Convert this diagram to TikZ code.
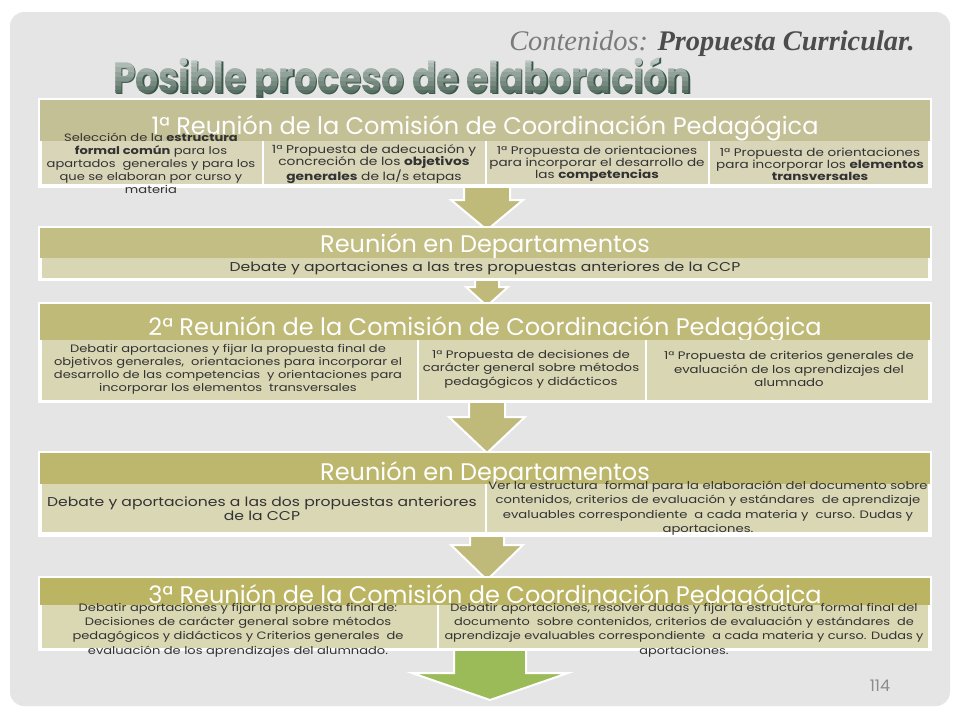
\documentclass[tikz,border=0pt]{standalone}
\usepackage{fontspec}
\setmainfont{Poppins}
\newfontfamily\boxfont[FakeStretch=1.22]{Poppins}
\newfontfamily\headlinefont[FakeStretch=0.82]{Poppins}
\newfontfamily\subjectfont{Liberation Serif}

\definecolor{slidegray}{HTML}{E5E5E5}
\definecolor{headA}{HTML}{C4C095}
\definecolor{subA}{HTML}{D8D5B8}
\definecolor{headB}{HTML}{C3BE84}
\definecolor{subB}{HTML}{D9D6B4}
\definecolor{headC}{HTML}{C0BA78}
\definecolor{subC}{HTML}{D9D6B3}
\definecolor{headD}{HTML}{BDB76D}
\definecolor{subD}{HTML}{DAD7B5}
\definecolor{headE}{HTML}{BBB463}
\definecolor{subE}{HTML}{DAD8B3}
\definecolor{arrowtan}{HTML}{C0BA7A}
\definecolor{arrowgreen}{HTML}{9BBB59}
\definecolor{titlelight}{HTML}{CBD4CF}
\definecolor{titledark}{HTML}{3B5749}

\tikzset{
  headtext/.style={anchor=base, text=white, font=\fontsize{24}{26}\selectfont},
  subtext/.style={align=center, text=black!80, inner sep=0pt, font=\boxfont\fontsize{10.7}{13}\selectfont},
  bigsubtext/.style={subtext, font=\boxfont\fontsize{12.8}{14}\selectfont},
  titletext/.style={anchor=base, inner sep=0pt, font=\headlinefont\fontsize{44}{44}\selectfont\bfseries},
}

% down arrow: centre, top, head start, tip, half shaft, half head, colour
\newcommand{\bandarrow}[7]{%
  \filldraw[fill=#7, draw=white, line width=2pt]
    (#1-#5,#2) -- (#1-#5,#3) -- (#1-#6,#3) -- (#1,#4) -- (#1+#6,#3) -- (#1+#5,#3) -- (#1+#5,#2);}

\begin{document}
\begin{tikzpicture}[x=1pt,y=-1pt]
	\useasboundingbox (0,0) rectangle (960,720);

	%The slide
	\fill[white] (0,0) rectangle (960,720);
	\fill[slidegray, rounded corners=14pt] (10,12) rectangle (950,706);

	%Titles
	\node[anchor=base east, inner sep=0pt, font=\fontsize{28.4}{28.4}\selectfont\subjectfont\itshape] (subject) at (915,50)
	  {\color{black!52}Contenidos: \color{black!70}\bfseries Propuesta Curricular.};
	\node[titletext, text=titledark] (titleshadow) at (403.5,94.5) {Posible proceso de elaboración};
	\foreach \i in {0,...,9} {
	  \pgfmathtruncatemacro{\mix}{100-\i*10}
	  \begin{scope}
	    \clip (0,54+\i*4.6) rectangle (960,58.6+\i*4.6);
	    \node[titletext, text=titlelight!\mix!titledark] (title\i) at (402,93) {Posible proceso de elaboración};
	  \end{scope}
	}

	%Arrows between the meetings
	\bandarrow{487}{182}{200}{230}{23}{36}{arrowtan}
	\bandarrow{487}{276}{287}{306}{12}{21}{arrowtan}
	\bandarrow{487}{398}{417}{453}{18}{38}{arrowtan}
	\bandarrow{487}{530}{545}{580}{17}{36}{arrowtan}
	\bandarrow{490}{646}{673}{700}{36}{78}{arrowgreen}

	%1st meeting
	\fill[white] (38,98) rectangle (932,188);
	\fill[headA] (40,100) rectangle (930,141);
	\node[headtext] (meet1) at (485,134) {1ª Reunión de la Comisión de Coordinación Pedagógica};
	\foreach \l/\r in {42/262, 264/485, 487/708, 710/928}
	  \fill[subA] (\l,141) rectangle (\r,184);
	\node[subtext] (m1a) at (151,163) {Selección de la \textbf{estructura}\\ \textbf{formal común} para los\\ apartados\ \ generales y para los\\ que se elaboran por curso y\\ materia};
	\node[subtext, font=\boxfont\fontsize{11.3}{12}\selectfont] (m1b) at (374,164) {1ª Propuesta de adecuación y\\ concreción de los \textbf{objetivos}\\ \textbf{generales} de la/s etapas};
	\node[subtext, font=\boxfont\fontsize{11.1}{12}\selectfont] (m1c) at (597,164) {1ª Propuesta de orientaciones\\ para incorporar el desarrollo de\\ las \textbf{competencias}};
	\node[subtext, font=\boxfont\fontsize{11.1}{12}\selectfont] (m1d) at (820,164) {1ª Propuesta de orientaciones\\ para incorporar los \textbf{elementos}\\ \textbf{transversales}};

	%Departments
	\fill[white] (38,226) rectangle (932,281);
	\fill[headB] (40,228) rectangle (930,258);
	\node[headtext] (dep1) at (485,252) {Reunión en Departamentos};
	\fill[subB] (42,258) rectangle (928,278);
	\node[bigsubtext] (d1a) at (485,268) {Debate y aportaciones a las tres propuestas anteriores de la CCP};

	%2nd meeting
	\fill[white] (38,302) rectangle (932,403);
	\fill[headC] (40,304) rectangle (930,340);
	\node[headtext] (meet2) at (485,335) {2ª Reunión de la Comisión de Coordinación Pedagógica};
	\foreach \l/\r in {42/417, 419/645, 647/928}
	  \fill[subC] (\l,340) rectangle (\r,400);
	\node[subtext] (m2a) at (228,369) {Debatir aportaciones y fijar la propuesta final de\\ objetivos generales,\ \ orientaciones para incorporar el\\ desarrollo de las competencias\ \ y orientaciones para\\ incorporar los elementos\ \ transversales};
	\node[subtext, font=\boxfont\fontsize{10.9}{13.6}\selectfont] (m2b) at (531,369) {1ª Propuesta de decisiones de\\ carácter general sobre métodos\\ pedagógicos y didácticos};
	\node[subtext, font=\boxfont\fontsize{10.9}{13.6}\selectfont] (m2c) at (789,369) {1ª Propuesta de criterios generales de\\ evaluación de los aprendizajes del\\ alumnado};

	%Departments again
	\fill[white] (38,451) rectangle (932,537);
	\fill[headD] (40,453) rectangle (930,484);
	\node[headtext] (dep2) at (485,480) {Reunión en Departamentos};
	\foreach \l/\r in {42/485, 487/928}
	  \fill[subD] (\l,484) rectangle (\r,532);
	\node[bigsubtext] (d2a) at (262,509) {Debate y aportaciones a las dos propuestas anteriores\\ de la CCP};
	\node[subtext, font=\boxfont\fontsize{10.8}{14.3}\selectfont] (d2b) at (708,508) {Ver la estructura\ \ formal para la elaboración del documento sobre\\ contenidos, criterios de evaluación y estándares\ \ de aprendizaje\\ evaluables correspondiente\ \ a cada materia y\ \ curso. Dudas y\\ aportaciones.};

	%3rd meeting
	\fill[white] (38,576) rectangle (932,651);
	\fill[headE] (40,578) rectangle (930,605);
	\node[headtext] (meet3) at (485,603) {3ª Reunión de la Comisión de Coordinación Pedagógica};
	\foreach \l/\r in {42/437, 439/928}
	  \fill[subE] (\l,605) rectangle (\r,648);
	\node[subtext, font=\boxfont\fontsize{10.7}{14.3}\selectfont] (m3a) at (238,630) {Debatir aportaciones y fijar la propuesta final de:\\ Decisiones de carácter general sobre métodos\\ pedagógicos y didácticos y Criterios generales\ \ de\\ evaluación de los aprendizajes del alumnado.};
	\node[subtext, font=\boxfont\fontsize{10.6}{14.3}\selectfont] (m3b) at (684,630) {Debatir aportaciones, resolver dudas y fijar la estructura\ \ formal final del\\ documento\ \ sobre contenidos, criterios de evaluación y estándares\ \ de\\ aprendizaje evaluables correspondiente\ \ a cada materia y curso. Dudas y\\ aportaciones.};

	%Page number
	\node[text=black!45, font=\fontsize{16}{16}\selectfont] (page) at (880,686) {114};

\end{tikzpicture}
\end{document}
